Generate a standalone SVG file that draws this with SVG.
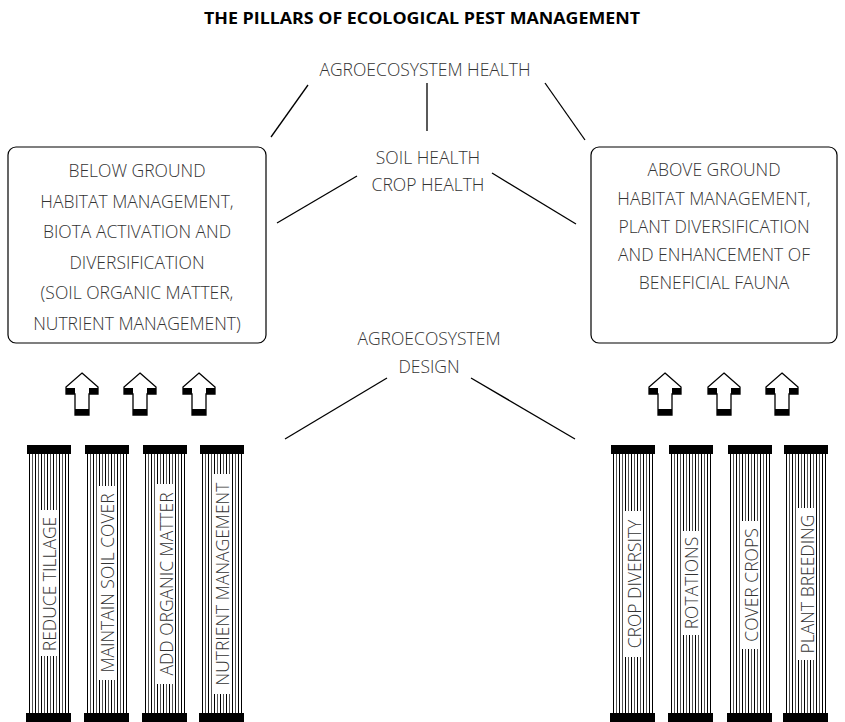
<svg xmlns="http://www.w3.org/2000/svg" xmlns:xlink="http://www.w3.org/1999/xlink" width="845" height="722" viewBox="0 0 845 722">
<style>
.t{font-family:"Open Sans","Liberation Sans",sans-serif;font-weight:300;font-size:17.5px;fill:#333;text-anchor:middle}
.title{font-family:"Open Sans","Liberation Sans",sans-serif;font-weight:bold;font-size:16.5px;fill:#000;text-anchor:middle}
.box{fill:#fff;stroke:#000;stroke-width:1.2}
.ln{stroke:#000;stroke-width:1.3;fill:none}
.lbg{fill:#fff}
</style>
<defs>
<pattern id="flutes" x="2" y="0" width="6" height="10" patternUnits="userSpaceOnUse">
<rect x="0" y="0" width="1" height="10" fill="#000"/>
<rect x="3" y="0" width="1" height="10" fill="#555"/>
</pattern>
<g id="pillar">
<rect x="2" y="454" width="40" height="259" fill="url(#flutes)"/>
<rect x="41" y="454" width="1" height="259" fill="#000"/>
<rect x="0" y="445" width="44" height="9" fill="#000"/>
<rect x="-1" y="713" width="45" height="9" fill="#000"/>
</g>
<g id="arrow">
<polygon points="0,373 16,387 16,394 7,394 7,415 -7,415 -7,394 -16,394 -16,387" fill="#fff" stroke="#000" stroke-width="1.3" stroke-linejoin="miter"/>
<rect x="-16" y="388" width="9" height="6" fill="#000"/>
<rect x="7" y="388" width="9" height="6" fill="#000"/>
<rect x="-7" y="409" width="14" height="6" fill="#000"/>
</g>
</defs>
<rect width="845" height="722" fill="#fff"/>
<text class="title" x="422" y="24" textLength="436" lengthAdjust="spacingAndGlyphs">THE PILLARS OF ECOLOGICAL PEST MANAGEMENT</text>

<g id="connectors">
<line class="ln" x1="308" y1="85" x2="271" y2="137"/>
<line class="ln" x1="427" y1="83" x2="427" y2="131"/>
<line class="ln" x1="545" y1="83" x2="585" y2="140"/>
<line class="ln" x1="357" y1="176" x2="277" y2="223"/>
<line class="ln" x1="492" y1="173" x2="576" y2="224"/>
<line class="ln" x1="387" y1="378" x2="285" y2="439"/>
<line class="ln" x1="471" y1="378" x2="575" y2="439"/>
</g>

<g id="agro-health"><text class="t" x="425" y="76">AGROECOSYSTEM HEALTH</text></g>
<g id="soil-crop-health">
<text class="t" x="428" y="164">SOIL HEALTH</text>
<text class="t" x="428" y="191">CROP HEALTH</text>
</g>
<g id="agro-design">
<text class="t" x="429" y="345">AGROECOSYSTEM</text>
<text class="t" x="429" y="373">DESIGN</text>
</g>

<g id="below-ground">
<rect class="box" x="8" y="147" width="258" height="196" rx="8"/>
<text class="t" x="137" y="177">BELOW GROUND</text>
<text class="t" x="137" y="207.6">HABITAT MANAGEMENT,</text>
<text class="t" x="137" y="238.2">BIOTA ACTIVATION AND</text>
<text class="t" x="137" y="268.8">DIVERSIFICATION</text>
<text class="t" x="137" y="299.4">(SOIL ORGANIC MATTER,</text>
<text class="t" x="137" y="330">NUTRIENT MANAGEMENT)</text>
</g>
<g id="above-ground">
<rect class="box" x="591" y="147" width="246" height="196" rx="8"/>
<text class="t" x="714" y="176">ABOVE GROUND</text>
<text class="t" x="714" y="205">HABITAT MANAGEMENT,</text>
<text class="t" x="714" y="233">PLANT DIVERSIFICATION</text>
<text class="t" x="714" y="261">AND ENHANCEMENT OF</text>
<text class="t" x="714" y="289">BENEFICIAL FAUNA</text>
</g>

<g id="arrows-left">
<use xlink:href="#arrow" x="82"/>
<use xlink:href="#arrow" x="140"/>
<use xlink:href="#arrow" x="199"/>
</g>
<g id="arrows-right">
<use xlink:href="#arrow" x="665"/>
<use xlink:href="#arrow" x="724"/>
<use xlink:href="#arrow" x="782"/>
</g>

<g id="pillar-reduce-tillage">
<use xlink:href="#pillar" x="27"/>
<rect class="lbg" x="41" y="510" width="17" height="146"/>
<text class="t" transform="translate(56,584) rotate(-90)">REDUCE TILLAGE</text>
</g>
<g id="pillar-maintain-soil-cover">
<use xlink:href="#pillar" x="85"/>
<rect class="lbg" x="98" y="486" width="18" height="194"/>
<text class="t" transform="translate(114,583) rotate(-90)">MAINTAIN SOIL COVER</text>
</g>
<g id="pillar-add-organic-matter">
<use xlink:href="#pillar" x="143"/>
<rect class="lbg" x="157" y="484" width="18" height="200"/>
<text class="t" transform="translate(173,584) rotate(-90)">ADD ORGANIC MATTER</text>
</g>
<g id="pillar-nutrient-management">
<use xlink:href="#pillar" x="200"/>
<rect class="lbg" x="213" y="474" width="18" height="220"/>
<text class="t" transform="translate(229,584) rotate(-90)">NUTRIENT MANAGEMENT</text>
</g>

<g id="pillar-crop-diversity">
<use xlink:href="#pillar" x="611"/>
<rect class="lbg" x="625" y="511" width="18" height="146"/>
<text class="t" transform="translate(641,584) rotate(-90)">CROP DIVERSITY</text>
</g>
<g id="pillar-rotations">
<use xlink:href="#pillar" x="669"/>
<rect class="lbg" x="682" y="531" width="18" height="104"/>
<text class="t" transform="translate(698,583) rotate(-90)">ROTATIONS</text>
</g>
<g id="pillar-cover-crops">
<use xlink:href="#pillar" x="728"/>
<rect class="lbg" x="742" y="521" width="18" height="128"/>
<text class="t" transform="translate(758,585) rotate(-90)">COVER CROPS</text>
</g>
<g id="pillar-plant-breeding">
<use xlink:href="#pillar" x="784"/>
<rect class="lbg" x="798" y="508" width="18" height="152"/>
<text class="t" transform="translate(814,584) rotate(-90)">PLANT BREEDING</text>
</g>
</svg>
